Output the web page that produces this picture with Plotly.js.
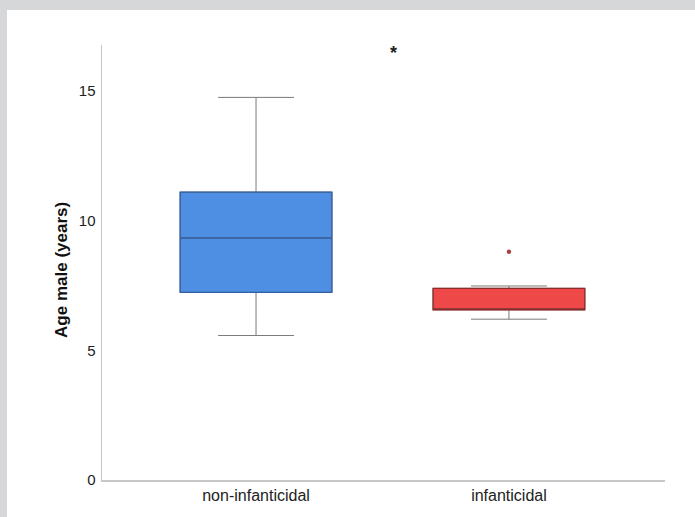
<!DOCTYPE html>
<html>
<head>
<meta charset="utf-8">
<script src="https://cdn.plot.ly/plotly-3.0.1.min.js"></script>
<style>
  html, body { margin: 0; padding: 0; background: #d6d7d9; width: 695px; height: 517px; overflow: hidden; }
  #frame { position: absolute; left: 7px; top: 10px; width: 688px; height: 507px; background: #ffffff; }
  #chart { width: 688px; height: 507px; }
</style>
</head>
<body>
<div id="frame"><div id="chart"></div></div>
<script>
// ---- data ----
const categories   = ["non-infanticidal", "infanticidal"];
const lowerWhisker = [5.57, 6.20];
const q1Values     = [7.23, 6.56];
const medians      = [9.33, 6.57];
const q3Values     = [11.10, 7.39];
const upperWhisker = [14.75, 7.48];
const outlierGroup = [1];
const outlierAge   = [8.80];
const fillColors   = ["#4f8fe3", "#ef4848"];
const edgeColors   = ["#2f5f9f", "#8f2a2a"];
const outlierColor = "#a8423e";
const yTicks       = [0, 5, 10, 15];

const xpos = categories.map((c, i) => i);
const traces = [];
categories.forEach((c, i) => {
  // whiskers + fill
  traces.push({
    type: "box", x: [xpos[i]],
    q1: [q1Values[i]], median: [medians[i]], q3: [q3Values[i]],
    lowerfence: [lowerWhisker[i]], upperfence: [upperWhisker[i]],
    width: 0.6, whiskerwidth: 0.5,
    fillcolor: fillColors[i],
    line: { color: "#7a7a7a", width: 1 },
    boxpoints: false, hoverinfo: "skip", showlegend: false
  });
  // box outline + median in darker shade
  traces.push({
    type: "box", x: [xpos[i]],
    q1: [q1Values[i]], median: [medians[i]], q3: [q3Values[i]],
    lowerfence: [q1Values[i]], upperfence: [q3Values[i]],
    width: 0.6, whiskerwidth: 0,
    fillcolor: "rgba(0,0,0,0)",
    line: { color: edgeColors[i], width: 1.3 },
    boxpoints: false, hoverinfo: "skip", showlegend: false
  });
});
traces.push({
  type: "scatter", mode: "markers",
  x: outlierGroup.map(g => xpos[g]), y: outlierAge,
  marker: { color: outlierColor, size: 4.5 },
  hoverinfo: "skip", showlegend: false
});

const layout = {
  width: 688, height: 507,
  margin: { l: 95, r: 30, t: 35, b: 37 },
  paper_bgcolor: "#ffffff", plot_bgcolor: "#ffffff",
  boxmode: "overlay",
  font: { family: "Liberation Sans, Arial, sans-serif", color: "#222222" },
  xaxis: {
    range: [-0.609, 1.617],
    tickmode: "array", tickvals: xpos, ticktext: categories,
    showgrid: false, zeroline: false,
    showline: true, linecolor: "#c8c8c8", linewidth: 1.5,
    ticks: "", tickfont: { size: 16, color: "#222222" }
  },
  yaxis: {
    range: [0, 16.77],
    tickmode: "array", tickvals: yTicks, ticktext: yTicks.map(String),
    showgrid: false, zeroline: false,
    showline: true, linecolor: "#c8c8c8", linewidth: 1.5,
    ticks: "", ticklabelstandoff: 2,
    tickfont: { size: 15, color: "#222222" }
  },
  annotations: [
    {
      xref: "paper", yref: "paper", x: 0.517, y: 1.009,
      text: "<b>*</b>", showarrow: false, font: { size: 18, color: "#222222" }
    },
    {
      xref: "paper", yref: "paper", x: -0.071, y: 0.483,
      xanchor: "center", yanchor: "middle", textangle: -90,
      text: "<b>Age male (years)</b>", showarrow: false,
      font: { size: 17, color: "#111111" }
    }
  ]
};

Plotly.newPlot("chart", traces, layout, { displayModeBar: false, staticPlot: true });
</script>
</body>
</html>
